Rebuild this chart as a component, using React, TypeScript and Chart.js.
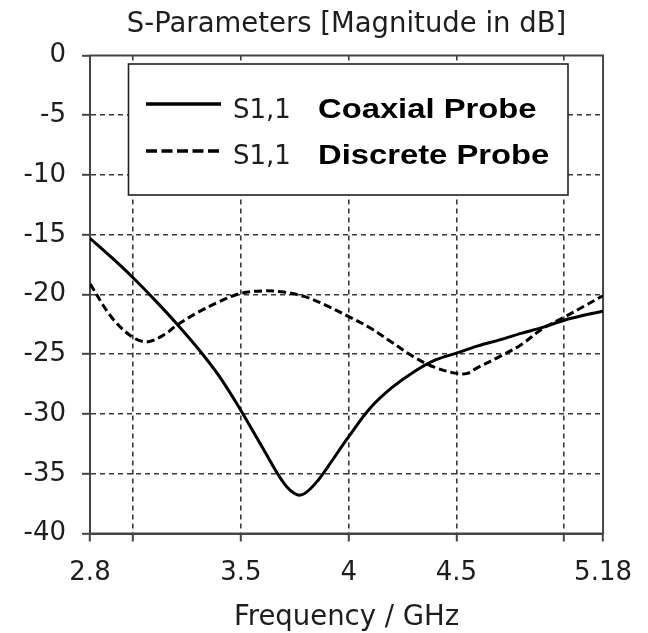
import React, { useEffect, useRef } from 'react';
import { Chart, registerables } from 'chart.js';

Chart.register(...registerables);

// ---- data ----
const coaxFreq = [2.8, 2.9, 3.0, 3.1, 3.2, 3.3, 3.4, 3.5, 3.6, 3.7, 3.76, 3.8, 3.86, 3.9, 4.0, 4.1, 4.2, 4.3, 4.4, 4.5, 4.6, 4.7, 4.8, 4.9, 5.0, 5.1, 5.18];
const coaxDb = [-15.3, -16.9, -18.6, -20.45, -22.4, -24.5, -26.85, -29.7, -32.8, -35.8, -36.75, -36.6, -35.5, -34.5, -31.9, -29.5, -27.8, -26.5, -25.5, -24.9, -24.3, -23.8, -23.25, -22.75, -22.15, -21.7, -21.4];

const discreteFreq = [2.8, 2.9, 3.0, 3.07, 3.15, 3.2, 3.3, 3.4, 3.5, 3.6, 3.7, 3.8, 3.9, 4.0, 4.1, 4.2, 4.3, 4.4, 4.5, 4.55, 4.6, 4.7, 4.8, 4.9, 5.0, 5.1, 5.18];
const discreteDb = [-19.1, -21.9, -23.6, -23.95, -23.3, -22.6, -21.5, -20.6, -19.9, -19.7, -19.8, -20.2, -20.95, -21.85, -22.8, -24.0, -25.2, -26.1, -26.6, -26.6, -26.1, -25.2, -24.2, -22.85, -21.9, -20.9, -20.1];

const seriesNames = ['S1,1', 'S1,1'];
const probeNames = ['Coaxial Probe', 'Discrete Probe'];

const xTickValues = [2.8, 3, 3.5, 4, 4.5, 5, 5.18];
const xLabelValues = [2.8, 3.5, 4, 4.5, 5.18];
const xMin = 2.8;
const xMax = 5.18;
const yMin = -40;
const yMax = 0;
const yStep = 5;

const titleText = 'S-Parameters [Magnitude in dB]';
const xTitleText = 'Frequency / GHz';

// ---- styles ----
const FONT = '"DejaVu Sans", Verdana, sans-serif';
const TEXT = '#1e1e1e';
const FRAME = '#454545';
const GRID = '#3a3a3a';
const SOLID_DASH: number[] = [];
const DASHED = [8, 4];

const framePlugin = {
  id: 'frameAndLegend',
  beforeDatasetsDraw(chart: any) {
    const { ctx, chartArea: a } = chart;
    ctx.save();
    ctx.strokeStyle = FRAME;
    ctx.lineWidth = 2;
    ctx.strokeRect(a.left, a.top, a.right - a.left, a.bottom - a.top);
    ctx.restore();
  },
  afterDatasetsDraw(chart: any) {
    const { ctx, chartArea: a } = chart;
    const bx = a.left + 38.5;
    const by = a.top + 8.5;
    const bw = 439.5;
    const bh = 131;
    ctx.save();
    ctx.fillStyle = '#ffffff';
    ctx.fillRect(bx, by, bw, bh);
    ctx.strokeStyle = '#222';
    ctx.lineWidth = 1.6;
    ctx.strokeRect(bx, by, bw, bh);

    const rows = [
      { lineY: a.top + 48.5, baseY: a.top + 62, sampleDash: SOLID_DASH },
      { lineY: a.top + 95.5, baseY: a.top + 108, sampleDash: [11, 4.5] },
    ];
    rows.forEach((r, i) => {
      ctx.beginPath();
      ctx.setLineDash(r.sampleDash);
      ctx.strokeStyle = '#000';
      ctx.lineWidth = 3.5;
      ctx.moveTo(a.left + 56, r.lineY);
      ctx.lineTo(a.left + 131, r.lineY);
      ctx.stroke();
      ctx.setLineDash([]);

      ctx.fillStyle = TEXT;
      ctx.textBaseline = 'alphabetic';
      ctx.textAlign = 'left';
      ctx.font = `26px ${FONT}`;
      ctx.fillText(seriesNames[i], a.left + 143, r.baseY);

      ctx.save();
      ctx.translate(a.left + 228, r.baseY + 0.5);
      ctx.scale(1.17, 1);
      ctx.fillStyle = '#000';
      ctx.font = `bold 28px "Liberation Sans", Arial, sans-serif`;
      ctx.fillText(probeNames[i], 0, 0);
      ctx.restore();
    });
    ctx.restore();
  },
};

export default function App() {
  const canvasRef = useRef<HTMLCanvasElement | null>(null);

  useEffect(() => {
    document.body.style.margin = '0';
    const canvas = canvasRef.current;
    if (!canvas) return;

    const gridColor = (c: any) => {
      const v = c.tick ? c.tick.value : null;
      const s = c.scale;
      if (v === null || v === undefined) return GRID;
      if (Math.abs(v - s.min) < 1e-9 || Math.abs(v - s.max) < 1e-9) return 'rgba(0,0,0,0)';
      return GRID;
    };

    const chart = new Chart(canvas, {
      type: 'line',
      data: {
        datasets: [
          {
            label: `${seriesNames[0]} ${probeNames[0]}`,
            data: coaxFreq.map((f, i) => ({ x: f, y: coaxDb[i] })),
            borderColor: '#000',
            borderWidth: 3,
            borderDash: SOLID_DASH,
            pointRadius: 0,
            tension: 0.35,
            fill: false,
          },
          {
            label: `${seriesNames[1]} ${probeNames[1]}`,
            data: discreteFreq.map((f, i) => ({ x: f, y: discreteDb[i] })),
            borderColor: '#000',
            borderWidth: 3,
            borderDash: DASHED,
            pointRadius: 0,
            tension: 0.35,
            fill: false,
          },
        ],
      },
      options: {
        responsive: false,
        animation: false,
        devicePixelRatio: 1,
        layout: { padding: { top: 0, left: 0, right: 40.5, bottom: 0 } },
        plugins: {
          legend: { display: false },
          tooltip: { enabled: false },
          title: {
            display: true,
            fullSize: false,
            text: titleText,
            color: TEXT,
            font: { family: FONT, size: 27.5, weight: 'normal' },
            padding: { top: 8, bottom: 14.5 },
          },
        },
        scales: {
          x: {
            type: 'linear',
            min: xMin,
            max: xMax,
            afterBuildTicks: (scale: any) => {
              scale.ticks = xTickValues.map((v) => ({ value: v }));
            },
            afterFit: (scale: any) => {
              scale.height = 99.5;
            },
            ticks: {
              autoSkip: false,
              maxRotation: 0,
              padding: 16,
              color: TEXT,
              font: { family: FONT, size: 26 },
              callback: (v: any) => (xLabelValues.some((l) => Math.abs(l - v) < 1e-9) ? String(v) : ''),
            },
            grid: {
              color: gridColor,
              lineWidth: 1.6,
              tickColor: FRAME,
              tickLength: 8,
              tickWidth: 2,
            },
            border: { display: true, color: FRAME, width: 2, dash: [5, 4] },
            title: {
              display: true,
              text: xTitleText,
              color: TEXT,
              font: { family: FONT, size: 27.5, weight: 'normal', lineHeight: 1.1 },
              padding: { top: 0, bottom: 0 },
            },
          },
          y: {
            type: 'linear',
            min: yMin,
            max: yMax,
            afterFit: (scale: any) => {
              scale.width = 90;
            },
            ticks: {
              stepSize: yStep,
              padding: 16,
              color: TEXT,
              font: { family: FONT, size: 26 },
            },
            grid: {
              color: gridColor,
              lineWidth: 1.6,
              tickColor: FRAME,
              tickLength: 8,
              tickWidth: 2,
            },
            border: { display: true, color: FRAME, width: 2, dash: [5, 4] },
          },
        },
      },
      plugins: [framePlugin],
    } as any);

    return () => chart.destroy();
  }, []);

  return (
    <div style={{ width: 648, height: 633, background: '#fff' }}>
      <canvas ref={canvasRef} width={648} height={633} style={{ display: 'block' }} />
    </div>
  );
}
